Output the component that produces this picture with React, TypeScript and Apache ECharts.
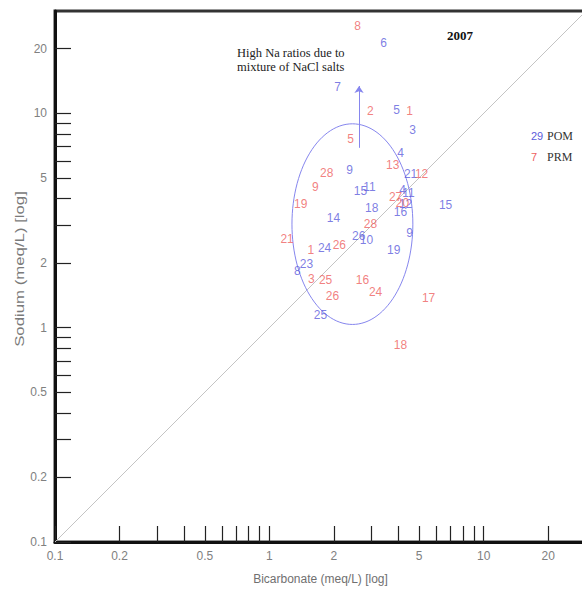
import React, { useEffect, useRef } from 'react';
import * as echarts from 'echarts';

const BLUE = '#5c5cdc';
const RED = '#ee6060';
const LINE_BLUE = '#8686ee';

const AXIS_MIN = 0.1;
const AXIS_MAX = 30;
const TICK_VALUES = [0.1, 0.2, 0.3, 0.4, 0.5, 0.6, 0.7, 0.8, 0.9, 1, 2, 3, 4, 5, 6, 7, 8, 9, 10, 20];
const TICK_LABELS = [0.1, 0.2, 0.5, 1, 2, 5, 10, 20];

// POM samples (blue numbers)
const POM_LABELS = ['6', '7', '5', '3', '4', '21', '9', '15', '11', '18', '14', '10', '26', '19', '9', '15', '24', '23', '8', '25', '4', '11', '16', '12'];
const POM_X = [3.41, 2.08, 3.92, 4.66, 4.09, 4.56, 2.37, 2.66, 2.93, 3.0, 1.99, 2.84, 2.61, 3.8, 4.51, 6.64, 1.81, 1.49, 1.35, 1.73, 4.18, 4.46, 4.09, 4.32];
const POM_Y = [21.2, 13.2, 10.4, 8.33, 6.5, 5.19, 5.42, 4.32, 4.51, 3.6, 3.23, 2.55, 2.69, 2.31, 2.75, 3.72, 2.36, 1.99, 1.83, 1.15, 4.37, 4.23, 3.48, 3.76];

// PRM samples (red numbers)
const PRM_LABELS = ['8', '2', '1', '5', '13', '12', '28', '9', '19', '21', '1', '26', '28', '27', '20', '25', '3', '26', '16', '24', '17', '18'];
const PRM_X = [2.58, 2.96, 4.51, 2.39, 3.76, 5.13, 1.85, 1.64, 1.4, 1.21, 1.56, 2.12, 2.96, 3.88, 4.18, 1.83, 1.57, 1.97, 2.72, 3.13, 5.53, 4.09];
const PRM_Y = [25.5, 10.2, 10.2, 7.56, 5.71, 5.19, 5.25, 4.51, 3.76, 2.58, 2.31, 2.42, 3.03, 4.09, 3.8, 1.66, 1.69, 1.4, 1.66, 1.47, 1.37, 0.83];

// 1:1 line
const ONE_TO_ONE = [0.1, 30];

// Ellipse (centre in data units, half-axes in decades)
const ELLIPSE_CENTER = [2.44, 3.04];
const ELLIPSE_HALF_DECADES = [0.282, 0.468];

// Arrow
const ARROW_X = 2.62;
const ARROW_FROM = 6.9;
const ARROW_TO = 13.4;

const fmt = (v: number) => String(+Number(v).toPrecision(3));

export default function App() {
  const ref = useRef<HTMLDivElement>(null);
  useEffect(() => {
    if (!ref.current) return;
    const chart = echarts.init(ref.current, null, { renderer: 'svg' });
    const axisCommon = {
      type: 'log' as const,
      logBase: 10,
      min: AXIS_MIN,
      max: AXIS_MAX,
      nameLocation: 'middle' as const,
      splitLine: { show: false },
      minorTick: { show: false },
      axisLine: { show: true, onZero: false, lineStyle: { color: '#111', width: 3 } },
      axisTick: {
        show: true,
        inside: true,
        length: 16,
        customValues: TICK_VALUES,
        lineStyle: { color: '#222', width: 1.2 },
      },
      axisLabel: {
        show: true,
        customValues: TICK_LABELS,
        formatter: fmt,
        color: '#808080',
        fontSize: 12,
        fontFamily: 'Liberation Sans',
        margin: 8,
      },
      nameTextStyle: { color: '#707070', fontSize: 12, fontFamily: 'Liberation Sans' },
    };
    const labelStyle = (color: string) => ({
      show: true,
      position: 'inside' as const,
      formatter: '{b}',
      color,
      fontSize: 12,
      fontFamily: 'Liberation Sans',
    });
    chart.setOption({
      animation: false,
      backgroundColor: '#fff',
      grid: {
        left: 55,
        top: 11,
        width: 531,
        height: 532,
        show: true,
        borderColor: '#333',
        borderWidth: 3,
        backgroundColor: 'transparent',
      },
      legend: {
        orient: 'vertical',
        left: 521,
        top: 124,
        itemGap: 8,
        itemWidth: 0,
        itemHeight: 14,
        icon: 'none',
        selectedMode: false,
        data: ['POM', 'PRM'],
        formatter: (name: string) => (name === 'POM' ? '{b|29}{t|POM}' : '{r|7}{t|PRM}'),
        textStyle: {
          rich: {
            b: { color: BLUE, fontSize: 11, fontFamily: 'Liberation Sans', width: 16 },
            r: { color: RED, fontSize: 11, fontFamily: 'Liberation Sans', width: 16 },
            t: { color: '#333', fontSize: 12, fontFamily: 'Liberation Serif' },
          },
        },
      },
      xAxis: {
        ...axisCommon,
        name: 'Bicarbonate (meq/L) [log]',
        nameGap: 31,
      },
      yAxis: {
        ...axisCommon,
        name: '',
      },
      graphic: [
        {
          type: 'text',
          x: 20,
          y: 269,
          rotation: Math.PI / 2,
          scaleX: 1.4,
          style: {
            text: 'Sodium (meq/L) [log]',
            fill: '#7a7a7a',
            fontSize: 12,
            fontFamily: 'Liberation Sans',
            align: 'center',
            verticalAlign: 'middle',
          },
        },
        {
          type: 'text',
          left: 237,
          top: 46,
          style: {
            text: 'High Na ratios due to\nmixture of NaCl salts',
            fill: '#222',
            fontSize: 12.5,
            lineHeight: 14,
            fontFamily: 'Liberation Serif',
          },
        },
        {
          type: 'text',
          left: 447,
          top: 29,
          style: {
            text: '2007',
            fill: '#111',
            fontSize: 13,
            fontWeight: 'bold',
            fontFamily: 'Liberation Serif',
          },
        },
      ],
      series: [
        {
          type: 'line',
          name: '1:1',
          data: [[ONE_TO_ONE[0], ONE_TO_ONE[0]], [ONE_TO_ONE[1], ONE_TO_ONE[1]]],
          symbol: 'none',
          silent: true,
          z: 1,
          lineStyle: { color: '#c4c4c4', width: 1 },
        },
        {
          type: 'lines',
          name: 'arrow',
          coordinateSystem: 'cartesian2d',
          silent: true,
          z: 2,
          symbol: ['none', 'arrow'],
          symbolSize: 7,
          lineStyle: { color: LINE_BLUE, width: 1, opacity: 1 },
          data: [{ coords: [[ARROW_X, ARROW_FROM], [ARROW_X, ARROW_TO]] }],
        },
        {
          type: 'custom',
          name: 'ellipse',
          silent: true,
          z: 2,
          data: [[ELLIPSE_CENTER[0], ELLIPSE_CENTER[1], ELLIPSE_HALF_DECADES[0], ELLIPSE_HALF_DECADES[1]]],
          renderItem: (params: any, api: any) => {
            const cx = api.value(0);
            const cy = api.value(1);
            const rx = api.value(2);
            const ry = api.value(3);
            const pts: number[][] = [];
            for (let a = 0; a <= 360; a += 3) {
              const t = (a * Math.PI) / 180;
              pts.push(api.coord([cx * Math.pow(10, rx * Math.cos(t)), cy * Math.pow(10, ry * Math.sin(t))]));
            }
            return {
              type: 'polyline',
              shape: { points: pts },
              style: { stroke: LINE_BLUE, fill: 'none', lineWidth: 1 },
            };
          },
        },
        {
          type: 'scatter',
          name: 'POM',
          z: 3,
          symbolSize: 1,
          itemStyle: { color: 'rgba(0,0,0,0)' },
          label: labelStyle(BLUE),
          emphasis: { disabled: true },
          data: POM_LABELS.map((l, i) => ({ name: l, value: [POM_X[i], POM_Y[i]] })),
        },
        {
          type: 'scatter',
          name: 'PRM',
          z: 3,
          symbolSize: 1,
          itemStyle: { color: 'rgba(0,0,0,0)' },
          label: labelStyle(RED),
          emphasis: { disabled: true },
          data: PRM_LABELS.map((l, i) => ({ name: l, value: [PRM_X[i], PRM_Y[i]] })),
        },
      ],
    });
    return () => chart.dispose();
  }, []);
  return (
    <div style={{ position: 'absolute', left: 0, top: 0, width: 582, height: 590, overflow: 'hidden', background: '#fff' }}>
      <div ref={ref} style={{ width: 600, height: 590 }} />
    </div>
  );
}
